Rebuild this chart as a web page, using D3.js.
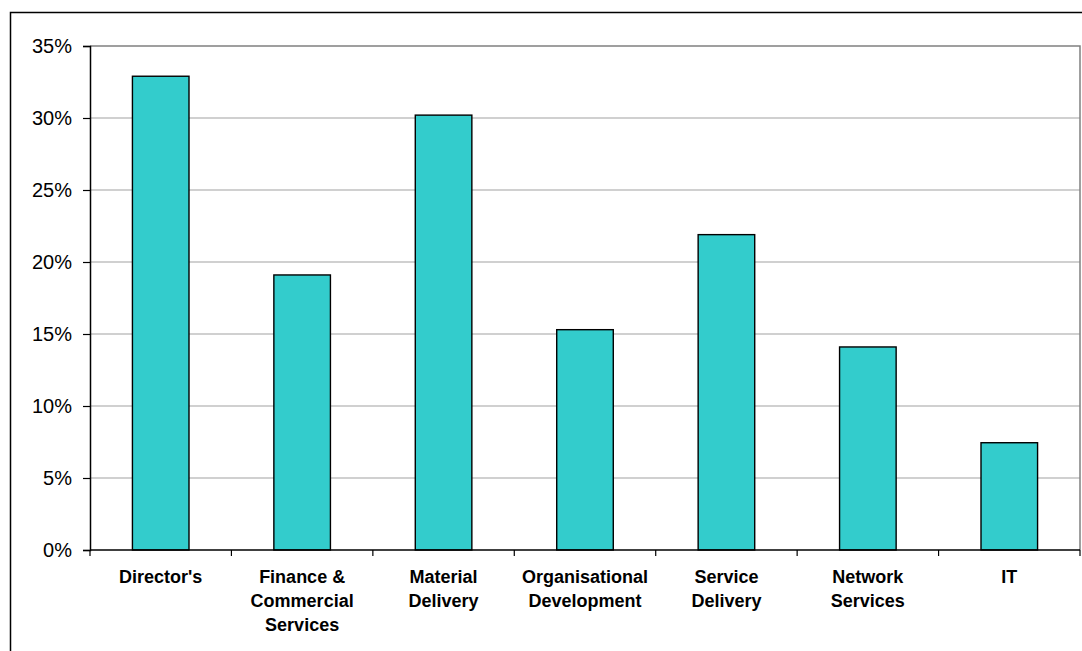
<!DOCTYPE html>
<head>
  <meta charset="utf-8">
  <style>
    body { margin: 0; background: #fff; }
    svg { display: block; }
    .ylab { font-family: "Liberation Sans", Arial, sans-serif; font-size: 20px; }
    .xlab { font-family: "Liberation Sans", Arial, sans-serif; font-size: 18px; font-weight: bold; }
  </style>
  <script src="https://cdn.jsdelivr.net/npm/d3@7"></script>
</head>
<body>
<svg id=chart width="1082" height="651"></svg>
<script>
const categories = ["Director's", "Finance & Commercial Services", "Material Delivery",
  "Organisational Development", "Service Delivery", "Network Services", "IT"]
const shares = [0.329, 0.191, 0.302, 0.153, 0.219, 0.141, 0.0745]
const yTicks = [0, 0.05, 0.10, 0.15, 0.20, 0.25, 0.30, 0.35]

const svg = d3.select('#chart')
const plotL = 90, plotR = 1080, plotT = 46, plotB = 550

// outer frame (runs off the right and bottom edges)
svg.append('rect')
  .attr('x', 10.5).attr('y', 12.5).attr('width', 1090).attr('height', 660)
  .attr('fill', 'none').attr('stroke', '#000').attr('stroke-width', 1.5)

const y = d3.scaleLinear().domain([0, 0.35]).range([plotB, plotT])
const x = d3.scaleBand().domain(categories).range([plotL, plotR])
  .paddingInner(0.6).paddingOuter(0.3)
const xCell = d3.scaleBand().domain(categories).range([plotL, plotR])

// gridlines
svg.append('g').selectAll('line')
  .data(yTicks.filter(d => d > 0 && d < 0.35))
  .join('line')
  .attr('x1', plotL).attr('x2', plotR)
  .attr('y1', d => y(d)).attr('y2', d => y(d))
  .attr('stroke', '#c0c0c0').attr('stroke-width', 1.5)

// plot area top/right border
svg.append('path')
  .attr('d', `M${plotL},${plotT}H${plotR}V${plotB}`)
  .attr('fill', 'none').attr('stroke', '#808080').attr('stroke-width', 1.5)

// bars
svg.append('g').selectAll('rect')
  .data(categories)
  .join('rect')
  .attr('x', d => x(d))
  .attr('width', x.bandwidth())
  .attr('y', (d, i) => y(shares[i]))
  .attr('height', (d, i) => y(0) - y(shares[i]))
  .attr('fill', '#33cccc')
  .attr('stroke', '#000').attr('stroke-width', 1.4)

// y axis
const yAxis = d3.axisLeft(y).tickValues(yTicks).tickFormat(d3.format('.0%'))
  .tickSize(7).tickPadding(11)
const gy = svg.append('g').attr('transform', `translate(${plotL},0)`).call(yAxis)
gy.attr('font-size', null).attr('font-family', null)
gy.select('.domain').attr('stroke', '#000').attr('stroke-width', 1.5)
gy.selectAll('.tick line').attr('stroke', '#000').attr('stroke-width', 1.2)
gy.selectAll('.tick text').attr('class', 'ylab').attr('fill', '#000')

// x axis line and boundary ticks
svg.append('line')
  .attr('x1', plotL).attr('x2', plotR).attr('y1', plotB).attr('y2', plotB)
  .attr('stroke', '#000').attr('stroke-width', 1.5)
const bounds = categories.map(d => xCell(d)).concat([plotR])
svg.append('g').selectAll('line')
  .data(bounds)
  .join('line')
  .attr('x1', d => d).attr('x2', d => d)
  .attr('y1', plotB).attr('y2', plotB + 6)
  .attr('stroke', '#000').attr('stroke-width', 1.2)

// category labels, wrapped
const wrapWidth = 125
svg.append('g').selectAll('text')
  .data(categories)
  .join('text')
  .attr('class', 'xlab')
  .attr('text-anchor', 'middle')
  .attr('x', d => xCell(d) + xCell.bandwidth() / 2)
  .attr('y', plotB + 33)
  .each(function (d) {
    const t = d3.select(this)
    const words = d.split(' ')
    const lines = []
    let cur = []
    const probe = t.append('tspan')
    words.forEach(w => {
      const trial = cur.concat([w]).join(' ')
      probe.text(trial)
      if (cur.length && probe.node().getComputedTextLength() > wrapWidth) {
        lines.push(cur.join(' '))
        cur = [w]
      } else cur.push(w)
    })
    lines.push(cur.join(' '))
    probe.remove()
    const cx = t.attr('x')
    lines.forEach((l, i) => {
      t.append('tspan').attr('x', cx).attr('dy', i ? 24 : 0).text(l)
    })
  })
</script>
</body>
